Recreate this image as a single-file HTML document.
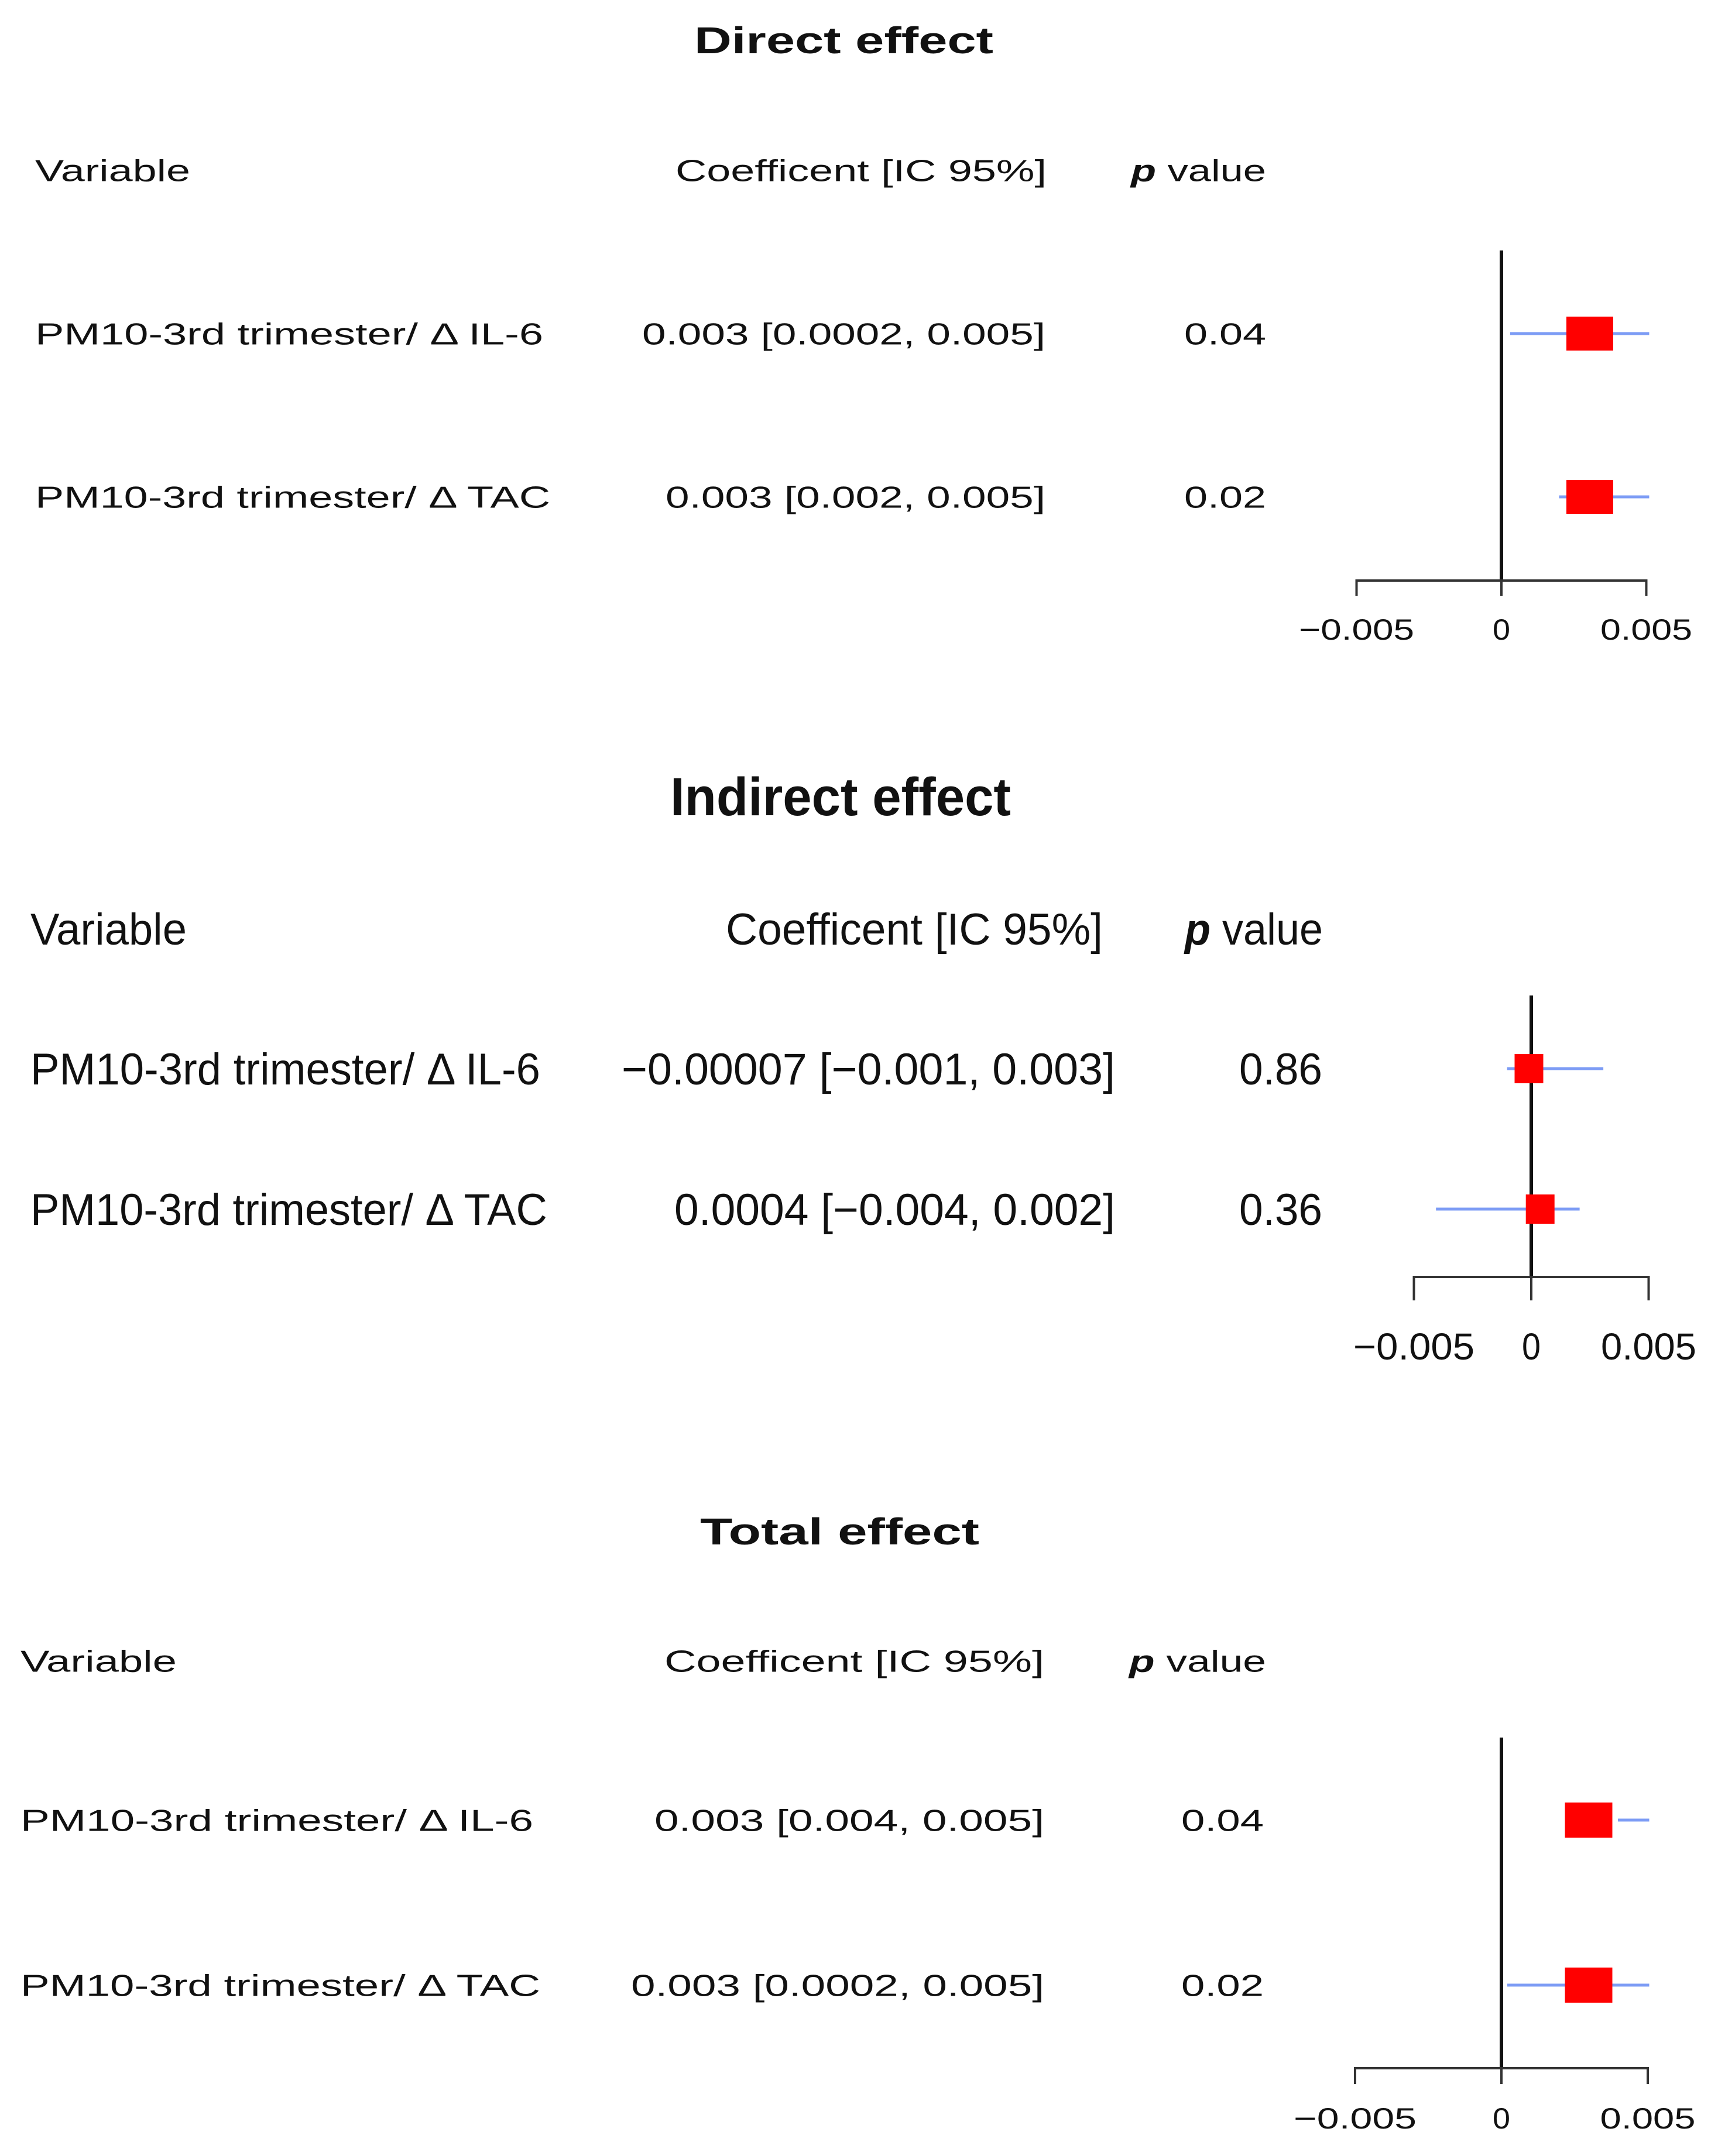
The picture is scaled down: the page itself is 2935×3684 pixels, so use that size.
<!DOCTYPE html>
<html><head><meta charset="utf-8"><title>Forest plot - effects</title>
<style>
html,body{margin:0;padding:0;background:#fff;}
svg{display:block;}
text{font-family:"Liberation Sans",Arial,sans-serif;fill:#111;}
</style></head>
<body>
<svg id="chart" xmlns="http://www.w3.org/2000/svg" width="2935" height="3684" viewBox="0 0 2935 3684">
<rect x="0" y="0" width="2935" height="3684" fill="#ffffff"/>
</svg>
<script>
// ----- data -----
const rowLabels = ["PM10-3rd trimester/ \u0394 IL-6", "PM10-3rd trimester/ \u0394 TAC"];
const tickValues = [-0.005, 0, 0.005];
const tickLabels = ["\u22120.005", "0", "0.005"];

const directPoint = [0.00305, 0.00305];
const directLower = [0.0003, 0.00199];
const directUpper = [0.0051, 0.0051];
const directCoefText = ["0.003 [0.0002, 0.005]", "0.003 [0.002, 0.005]"];
const directPText = ["0.04", "0.02"];

const indirectPoint = [-0.00010, 0.00038];
const indirectLower = [-0.00103, -0.00406];
const indirectUpper = [0.00307, 0.00206];
const indirectCoefText = ["\u22120.00007 [\u22120.001, 0.003]", "0.0004 [\u22120.004, 0.002]"];
const indirectPText = ["0.86", "0.36"];

const totalPoint = [0.00298, 0.00298];
const totalLower = [0.00398, 0.0002];
const totalUpper = [0.00505, 0.00505];
const totalCoefText = ["0.003 [0.004, 0.005]", "0.003 [0.0002, 0.005]"];
const totalPText = ["0.04", "0.02"];

// ----- layout (pixel geometry, not data) -----
const NS = "http://www.w3.org/2000/svg";
const svg = document.getElementById("chart");

const panels = [
 {key:"direct", title:"Direct effect", point:directPoint, lower:directLower, upper:directUpper, coef:directCoefText, p:directPText,
  dy:-5,
  titleX:1186, titleW:511, titleCy:73, titleFs:64,
  hdrCy:296, fs:52, varX:60, varW:265, coefHdrX:1154, coefHdrW:634, pHdrX:1932, pHdrW:231,
  rowCy:[575,854], labelW:[868,880], coefRight:1786, coefW:[689,649], pX:2023, pW:140,
  zeroX:2565, pxPerUnit:247.5/0.005, top:433, axisY:997, tickLen:26, boxW:80, boxH:58,
  tickCy:1080, tickFs:50, tickW:[197,30,157]},
 {key:"indirect", title:"Indirect effect", point:indirectPoint, lower:indirectLower, upper:indirectUpper, coef:indirectCoefText, p:indirectPText,
  dy:-8,
  titleX:1145, titleW:582, titleCy:1368, titleFs:92,
  hdrCy:1595, fs:76, varX:52, varW:267, coefHdrX:1240, coefHdrW:644, pHdrX:2024, pHdrW:236,
  rowCy:[1834,2074], labelW:[871,883], coefRight:1905, coefW:[843,753], pX:2117, pW:142,
  zeroX:2616, pxPerUnit:200.5/0.005, top:1709, axisY:2190, tickLen:40, boxW:49, boxH:50,
  tickCy:2308, tickFs:64, tickW:[207,32,163]},
 {key:"total", title:"Total effect", point:totalPoint, lower:totalLower, upper:totalUpper, coef:totalCoefText, p:totalPText,
  dy:-6,
  titleX:1196, titleW:477, titleCy:2622, titleFs:64,
  hdrCy:2844, fs:52, varX:35, varW:267, coefHdrX:1135, coefHdrW:649, pHdrX:1929, pHdrW:234,
  rowCy:[3116,3398], labelW:[876,888], coefRight:1784, coefW:[666,706], pX:2018, pW:141,
  zeroX:2565, pxPerUnit:250/0.005, top:2975, axisY:3540, tickLen:27, boxW:81, boxH:60,
  tickCy:3625, tickFs:50, tickW:[210,30,163]}
];

function addText(str, x, cy, fs, width, weight, extraStyle) {
  const t = document.createElementNS(NS, "text");
  t.setAttribute("x", x);
  t.setAttribute("y", (cy + 0.358 * fs).toFixed(1));
  t.setAttribute("font-size", fs);
  if (weight) t.setAttribute("font-weight", weight);
  t.setAttribute("textLength", width);
  t.setAttribute("lengthAdjust", "spacingAndGlyphs");
  if (extraStyle) t.setAttribute("style", extraStyle);
  t.textContent = str;
  svg.appendChild(t);
  return t;
}
function addLine(x1, y1, x2, y2, color, w) {
  const l = document.createElementNS(NS, "line");
  l.setAttribute("x1", x1); l.setAttribute("y1", y1);
  l.setAttribute("x2", x2); l.setAttribute("y2", y2);
  l.setAttribute("stroke", color); l.setAttribute("stroke-width", w);
  svg.appendChild(l);
  return l;
}

panels.forEach(function(P) {
  const d = P.dy;
  const xScale = function(v) { return P.zeroX + v * P.pxPerUnit; };

  let el = addText(P.title, P.titleX, P.titleCy + d, P.titleFs, P.titleW, "bold");
  
  

  el = addText("Variable", P.varX, P.hdrCy + d, P.fs, P.varW, null);
  
  

  el = addText("Coefficent [IC 95%]", P.coefHdrX, P.hdrCy + d, P.fs, P.coefHdrW, null);
  
  

  el = document.createElementNS(NS, "text");
  el.setAttribute("x", P.pHdrX);
  el.setAttribute("y", (P.hdrCy + d + 0.358 * P.fs).toFixed(1));
  el.setAttribute("font-size", P.fs);
  el.setAttribute("textLength", P.pHdrW);
  el.setAttribute("lengthAdjust", "spacingAndGlyphs");
  const ts1 = document.createElementNS(NS, "tspan");
  ts1.setAttribute("font-style", "italic");
  ts1.setAttribute("font-weight", "bold");
  ts1.textContent = "p";
  const ts2 = document.createElementNS(NS, "tspan");
  ts2.textContent = " value";
  el.appendChild(ts1); el.appendChild(ts2);
  svg.appendChild(el);
  
  

  el = addLine(P.zeroX, P.top + d, P.zeroX, P.axisY + d, "#111", 6);
  
  

  const xa = xScale(tickValues[0]), xb = xScale(tickValues[tickValues.length - 1]);
  el = addLine(xa, P.axisY + d, xb, P.axisY + d, "#333", 4);
  
  
  tickValues.forEach(function(v, i) {
    const tx = xScale(v);
    let tk = addLine(tx, P.axisY + d - 2, tx, P.axisY + d + P.tickLen, "#333", 4);
    
    
    let lb = addText(tickLabels[i], tx - P.tickW[i] / 2, P.tickCy + d, P.tickFs, P.tickW[i], null);
    
    
  });

  rowLabels.forEach(function(lab, r) {
    const cy = P.rowCy[r] + d;
    let t1 = addText(lab, P.varX, cy, P.fs, P.labelW[r], null);
    
    
    let t2 = addText(P.coef[r], P.coefRight - P.coefW[r], cy, P.fs, P.coefW[r], null);
    
    
    let t3 = addText(P.p[r], P.pX, cy, P.fs, P.pW, null);
    
    

    let ci = addLine(xScale(P.lower[r]), cy, xScale(P.upper[r]), cy, "#7d9cf5", 5);
    
    

    const bx = document.createElementNS(NS, "rect");
    bx.setAttribute("x", (xScale(P.point[r]) - P.boxW / 2).toFixed(1));
    bx.setAttribute("y", (cy - P.boxH / 2).toFixed(1));
    bx.setAttribute("width", P.boxW);
    bx.setAttribute("height", P.boxH);
    bx.setAttribute("fill", "#ff0000");
    svg.appendChild(bx);
    
    
  });
});
</script>
</body></html>
